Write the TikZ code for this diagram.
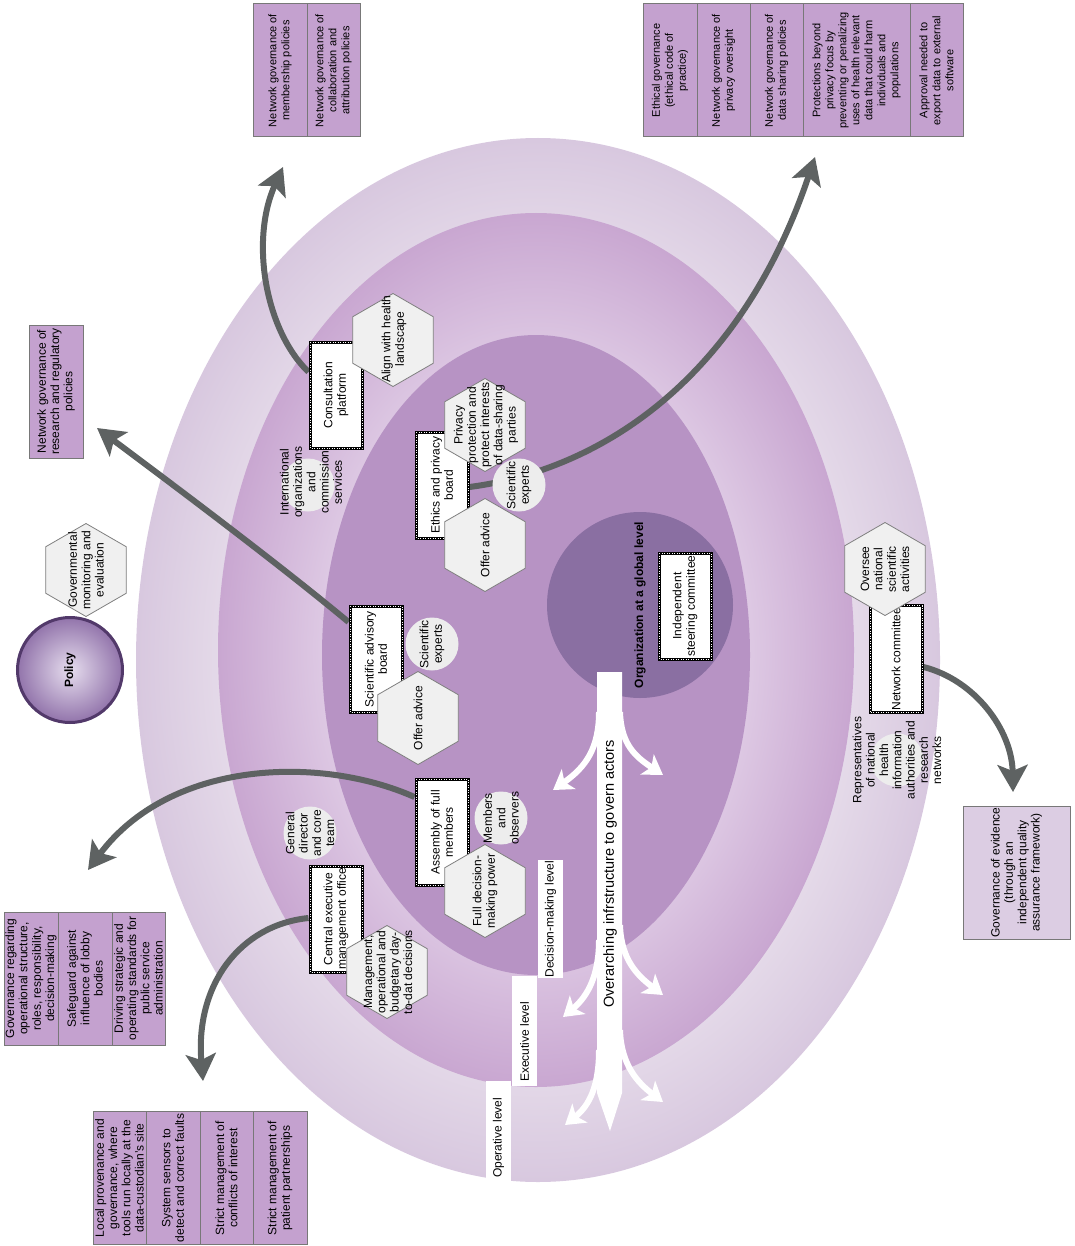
\documentclass[tikz,border=0pt]{standalone}
\usepackage{fontspec}
\setmainfont{Liberation Sans}
\usetikzlibrary{shapes.geometric,arrows.meta,calc}

\definecolor{outerIn}{HTML}{E6DCEA}
\definecolor{outerOut}{HTML}{D8C8DF}
\definecolor{midIn}{HTML}{DDC8E3}
\definecolor{midOut}{HTML}{C9A7D1}
\definecolor{coreFill}{HTML}{B793C4}
\definecolor{globeFill}{HTML}{8A6FA2}
\definecolor{boxFill}{HTML}{C4A1CF}
\definecolor{boxPale}{HTML}{DCCDE3}
\definecolor{boxLine}{HTML}{787878}
\definecolor{hexFill}{HTML}{F0F0F0}
\definecolor{hexLine}{HTML}{7F7F7F}
\definecolor{dotFill}{HTML}{EDEDED}
\definecolor{linkGrey}{HTML}{5E6262}
\definecolor{policyIn}{HTML}{E6DDEE}
\definecolor{policyOut}{HTML}{9274AB}
\definecolor{policyRim}{HTML}{52396A}

\pgfdeclareradialshading{outerring}{\pgfpoint{0bp}{0bp}}{%
  color(0bp)=(outerIn); color(19bp)=(outerIn); color(25bp)=(outerOut); color(50bp)=(outerOut)}
\pgfdeclareradialshading{midring}{\pgfpoint{0bp}{0bp}}{%
  color(0bp)=(midIn); color(17bp)=(midIn); color(25bp)=(midOut); color(50bp)=(midOut)}
\pgfdeclareradialshading{policyball}{\pgfpoint{0bp}{0bp}}{%
  color(0bp)=(policyIn); color(25bp)=(policyOut); color(50bp)=(policyOut)}

\pgfdeclarelayer{rings}
\pgfdeclarelayer{links}
\pgfsetlayers{rings,links,main}

\begin{document}
\begin{tikzpicture}[x=1pt,y=-1pt,
  every node/.style={font=\fontsize{12}{13.3}\selectfont},
  rtext/.style={rotate=90, align=center, inner sep=0pt},
  actor/.style={rotate=90, align=center, fill=white, draw=black, line width=3pt,
    minimum width=106pt, minimum height=52pt, inner sep=2pt,
    postaction={draw=white, line width=0.9pt, dash pattern=on 0.8pt off 1.7pt}},
  role/.style={regular polygon, regular polygon sides=6, rotate=90, minimum size=93pt,
    inner sep=0pt, fill=hexFill, draw=hexLine, line width=0.8pt},
  dot/.style={circle, fill=dotFill, minimum size=53pt, inner sep=0pt},
  policybox/.style={rotate=90, align=center, draw=boxLine, fill=boxFill, line width=1pt,
    minimum width=133pt, inner sep=0pt},
  toprow/.style={font=\fontsize{11}{13}\selectfont},
  level/.style={rotate=90, fill=white, inner sep=0pt, minimum height=25pt},
  link/.style={draw=linkGrey, line width=6pt, -{Stealth[length=27pt,width=30pt,inset=6pt]}},
  branch/.style={draw=white, line width=6pt, -{Stealth[length=19pt,width=24pt,inset=5pt]}},
]
\useasboundingbox (0,0) rectangle (1074,1246);

% nested governance levels
\begin{pgfonlayer}{rings}
  \fill[outerOut] (538,660) ellipse [x radius=402pt, y radius=522pt];
  \shade[shading=outerring] (538,660) ellipse [x radius=401pt, y radius=521pt];
  \fill[midOut] (536,650) ellipse [x radius=318pt, y radius=437pt];
  \shade[shading=midring] (536,650) ellipse [x radius=317pt, y radius=436pt];
  \fill[coreFill] (536,655) ellipse [x radius=214pt, y radius=320pt];
  \fill[globeFill] (640,605) circle [radius=93pt];
\end{pgfonlayer}

% overarching infrastructure arrow
\fill[white] (597,672) -- (622,672) -- (622,1093) -- (610,1131) -- (597,1093) -- cycle;
\draw[branch] (599,712) .. controls (599,748) and (586,767) .. (553,790);
\draw[branch] (620,712) .. controls (621,745) and (636,757) .. (663,775);
\draw[branch] (599,940) .. controls (599,975) and (588,996) .. (563,1017);
\draw[branch] (620,925) .. controls (621,960) and (638,976) .. (663,995);
\draw[branch] (599,1050) .. controls (599,1085) and (590,1105) .. (565,1125);
\draw[branch] (620,1030) .. controls (621,1065) and (638,1083) .. (663,1102);
\node[rtext, font=\fontsize{14.5}{16}\selectfont] (infra) at (610,874) {Overarching infrstructure to govern actors};

% level labels
\node[level, minimum width=118pt] (lvlD) at (550.5,919) {Decision-making level};
\node[level, minimum width=110pt] (lvlE) at (524.5,1031) {};
\node[rtext, anchor=west] (lvlEt) at (524.5,1082) {Executive level};
\node[level, minimum width=100pt] (lvlO) at (498.5,1131) {};
\node[rtext, anchor=west] (lvlOt) at (498.5,1178) {Operative level};

\node[rtext, font=\fontsize{12}{14}\selectfont\bfseries] (globe) at (640,605) {Organization at a global level};

% governance bodies
\node[actor] (consult) at (336,395) {Consultation\\platform};
\node[actor] (ethics) at (442,485) {Ethics and privacy\\board};
\node[actor] (sciadv) at (376,659) {Scientific advisory\\board};
\node[actor] (assembly) at (442,832) {Assembly of full\\members};
\node[actor] (ceo) at (336,919) {Central executive\\management office};
\node[actor] (steer) at (685,606) {Independent\\steering committee};
\node[actor] (netcom) at (896,659) {Network committee};

% free ends of the policy links
\coordinate (tipA) at (283,167);
\coordinate (tipB) at (815,157);
\coordinate (tipC) at (97,428);
\coordinate (tipD) at (88,870);
\coordinate (tipE) at (203,1081);
\coordinate (tipF) at (1013,792);

\begin{pgfonlayer}{links}
  \draw[link] ($(consult.north)+(0,-23)$) .. controls (265,330) and (250,240) .. (tipA);
  \draw[link] ($(ethics.south)+(0,2)$) .. controls (600,470) and (740,380) .. (tipB);
  \draw[link] ($(sciadv.north)+(0,-37)$) .. controls (280,565) and (180,490) .. (tipC);
  \draw[link] ($(assembly.north)+(0,-35)$) .. controls (320,755) and (170,760) .. (tipD);
  \draw[link] ($(ceo.north)+(0,-1)$) .. controls (240,925) and (195,985) .. (tipE);
  \draw[link] ($(netcom.south)+(0,8)$) .. controls (975,680) and (1012,730) .. (tipF);
\end{pgfonlayer}

% members
\node[dot] (cIntl) at (308,485) {};
\node[dot] (cExpE) at (519,485) {};
\node[dot] (cExpS) at (432,644) {};
\node[dot] (cMemb) at (501,818) {};
\node[dot] (cDir) at (310,833) {};
\node[dot] (cRep) at (897,760) {};

% roles
\node[role] (hAlign) at (393,340) {};
\node[role] (hPriv) at (485,425) {};
\node[role] (hAdvE) at (485,545) {};
\node[role] (hAdvS) at (418,718) {};
\node[role] (hFull) at (485,891) {};
\node[role] (hMgmt) at (387,972) {};
\node[role] (hOver) at (885,569) {};
\node[role] (hGov) at (86,570) {};

\node[rtext] (tAlign) at (394,339) {Align with health\\landscape};
\node[rtext] (tPriv) at (486,425) {Privacy\\protection and\\protect interests\\of data-sharing\\parties};
\node[rtext] (tAdvE) at (485,545) {Offer advice};
\node[rtext] (tAdvS) at (418,718) {Offer advice};
\node[rtext] (tFull) at (485,891) {Full decision-\\making power};
\node[rtext] (tMgmt) at (388,972) {Management,\\operational and\\budgetary day-\\to-dat decisions};
\node[rtext] (tOver) at (885,569) {Oversee\\national\\scientific\\activities};
\node[rtext] (tGov) at (86,570) {Governmental\\monitoring and\\evaluation};

\node[rtext] (tIntl) at (311,482) {International\\organizations\\and\\commission\\services};
\node[rtext] (tExpE) at (519,485) {Scientific\\experts};
\node[rtext] (tExpS) at (432,644) {Scientific\\experts};
\node[rtext] (tMemb) at (501,818) {Members\\and\\observers};
\node[rtext] (tDir) at (310,833) {General\\director\\and core\\team};
\node[rtext] (tRep) at (897,760) {Representatives\\of national\\health\\information\\authorities and\\research\\networks};

% policy
\node[circle, rotate=90, minimum size=105pt, draw=policyRim, line width=3pt,
  shade, shading=policyball, font=\fontsize{12}{14}\selectfont\bfseries] (policy) at (70,670) {Policy};

% policy outcomes
\node[policybox, toprow, minimum height=54pt] (tl1) at (280,70.5) {Network governance of\\membership policies};
\node[policybox, toprow, minimum height=53pt] (tl2) at (333.5,70.5) {Network governance of\\collaboration and\\attribution policies};

\node[policybox, toprow, minimum height=54pt] (tr1) at (670,70.5) {Ethical governance\\(ethical code of\\practice)};
\node[policybox, toprow, minimum height=53pt] (tr2) at (723.5,70.5) {Network governance of\\privacy oversight};
\node[policybox, toprow, minimum height=53pt] (tr3) at (776.5,70.5) {Network governance of\\data sharing policies};
\node[policybox, toprow, minimum height=107pt] (tr4) at (856.5,70.5) {Protections beyond\\privacy focus by\\preventing or penalizing\\uses of health relevant\\data that could harm\\individuals and\\populations};
\node[policybox, toprow, minimum height=53pt] (tr5) at (936.5,70.5) {Approval needed to\\export data to external\\software};

\node[policybox, minimum height=54pt] (lf) at (56,391.5) {Network governance of\\research and regulatory\\policies};

\node[policybox, minimum height=54pt] (bl1) at (31,978.5) {Governance regarding\\operational structure,\\roles, responsibility,\\decision-making};
\node[policybox, minimum height=54pt] (bl2) at (85,978.5) {Safeguard against\\influence of lobby\\bodies};
\node[policybox, minimum height=53pt] (bl3) at (138.5,978.5) {Driving strategic and\\operating standards for\\public service\\administration};

\node[policybox, minimum height=53pt] (bb1) at (119.5,1178) {Local provenance and\\governance, where\\tools run locally at the\\data-custodian's site};
\node[policybox, minimum height=54pt] (bb2) at (173,1178) {System sensors to\\detect and correct faults};
\node[policybox, minimum height=53pt] (bb3) at (226.5,1178) {Strict management of\\conflicts of interest};
\node[policybox, minimum height=54pt] (bb4) at (280,1178) {Strict management of\\patient partnerships};

\node[policybox, minimum height=107pt, fill=boxPale] (rt) at (1016.5,872.5) {Governance of evidence\\(through an\\independent quality\\assurance framework)};
\end{tikzpicture}
\end{document}
